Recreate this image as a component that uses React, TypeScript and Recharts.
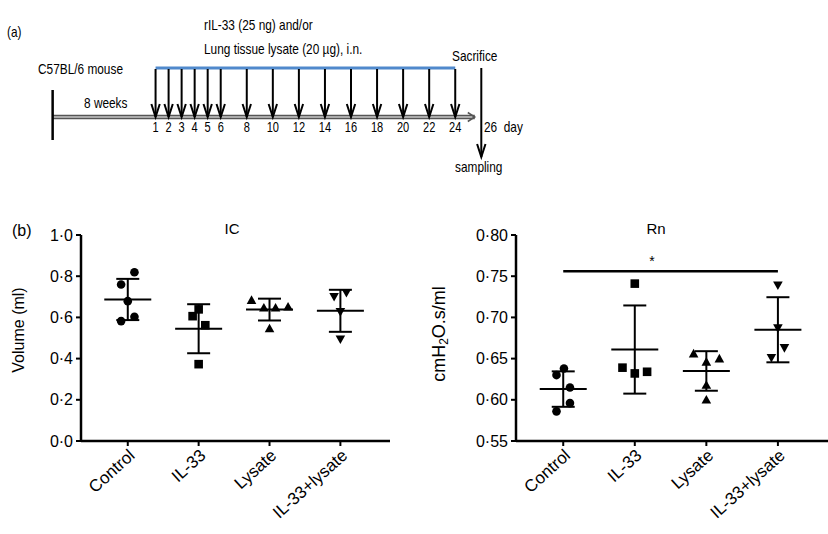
import React from "react";
import {
  ScatterChart,
  Scatter,
  XAxis,
  YAxis,
  ReferenceLine,
  ReferenceDot,
  ErrorBar,
} from "recharts";

// ---- panel (a): dosing schedule ----
const doseDays = [1, 2, 3, 4, 5, 6, 8, 10, 12, 14, 16, 18, 20, 22, 24];
const sacrificeDay = 26;
const startDay = -6.9;
const timelineEndDay = 25.5;

// ---- panel (b): lung function ----
const groups = ["Control", "IL-33", "Lysate", "IL-33+lysate"];

const icControl = [0.819, 0.76, 0.679, 0.582, 0.603];
const icIL33 = [0.639, 0.606, 0.562, 0.373];
const icLysate = [0.684, 0.647, 0.647, 0.652, 0.546];
const icCombo = [0.72, 0.7, 0.627, 0.494];
const icMean = [0.687, 0.545, 0.638, 0.632];
const icSd = [0.1, 0.119, 0.053, 0.102];
const icJitter = [
  [0.094, -0.094, 0, -0.094, 0.094],
  [0, -0.085, 0.094, 0],
  [-0.254, -0.08, 0.085, 0.262, 0],
  [0.085, -0.089, 0, 0],
];
const icTicks = [0, 0.2, 0.4, 0.6, 0.8, 1.0];

const rnControl = [0.638, 0.63, 0.615, 0.596, 0.586];
const rnIL33 = [0.741, 0.639, 0.632, 0.634];
const rnLysate = [0.656, 0.65, 0.646, 0.618, 0.6];
const rnCombo = [0.739, 0.687, 0.663, 0.651];
const rnMean = [0.613, 0.661, 0.635, 0.685];
const rnSd = [0.0215, 0.0535, 0.024, 0.0395];
const rnJitter = [
  [0.01, -0.094, 0.094, 0.094, -0.094],
  [0, -0.172, 0, 0.172],
  [-0.178, 0.182, 0, 0, 0],
  [0, 0, 0.091, -0.091],
];
const rnTicks = [0.55, 0.6, 0.65, 0.7, 0.75, 0.8];
const rnSignif = { from: 0, to: 3, level: 0.756 };

// schematic levels for panel (a), counted downward from the top
const LV = {
  blue: 68,
  arrowTop: 69,
  axis: 117,
  dayLabel: 131.7,
  startTop: 90,
  startBottom: 140,
  sacTip: 157,
};

const sans = "'Liberation Sans', Arial, Helvetica, sans-serif";
const SQUEEZE = 0.79; // panel (a) uses a condensed face

const buildPoints = (vals: number[][], jitter: number[][]) =>
  vals.flatMap((arr, i) => arr.map((v, j) => ({ x: i + jitter[i][j], y: v, group: i })));

const buildSummary = (mean: number[], sd: number[]) =>
  mean.map((m, i) => ({ x: i, y: m, sd: sd[i] }));

const DownArrow = (p: any) => {
  const { x1, y1, x2, y2 } = p;
  return (
    <g>
      <line x1={x1} y1={y1} x2={x2} y2={y2} stroke="#000" strokeWidth={2} />
      <polyline
        points={`${x2 - 4.2},${y2 - 13} ${x2},${y2} ${x2 + 4.2},${y2 - 13}`}
        fill="none"
        stroke="#000"
        strokeWidth={2}
      />
    </g>
  );
};

const TimeAxis = (p: any) => {
  const { x1, y1, x2, y2 } = p;
  return (
    <g>
      <line x1={x1} y1={y1} x2={x2} y2={y2} stroke="#555" strokeWidth={4.5} />
      <line x1={x1} y1={y1} x2={x2 - 2} y2={y2} stroke="#c8c8c8" strokeWidth={1.3} />
      <polyline
        points={`${x2 - 7},${y2 - 4.5} ${x2},${y2} ${x2 - 7},${y2 + 4.5}`}
        fill="none"
        stroke="#555"
        strokeWidth={1.5}
      />
    </g>
  );
};

const DayTick = (p: any) => (
  <text
    x={0}
    y={0}
    transform={`translate(${p.cx},${p.cy}) scale(${SQUEEZE},1)`}
    textAnchor="middle"
    fontSize={14}
    fontFamily={sans}
    fill="#000"
  >
    {p.payload.day}
  </text>
);

const Marker = (p: any) => {
  const { cx, cy, payload } = p;
  const g = payload.group;
  if (g === 0) return <circle cx={cx} cy={cy} r={4.3} fill="#000" />;
  if (g === 1) return <rect x={cx - 4.3} y={cy - 4.3} width={8.6} height={8.6} fill="#000" />;
  if (g === 2)
    return <polygon points={`${cx - 4.8},${cy + 3.8} ${cx + 4.8},${cy + 3.8} ${cx},${cy - 4.8}`} fill="#000" />;
  return <polygon points={`${cx - 4.8},${cy - 3.8} ${cx + 4.8},${cy - 3.8} ${cx},${cy + 4.8}`} fill="#000" />;
};

const MeanLine = (p: any) => (
  <line x1={p.cx - 23.5} x2={p.cx + 23.5} y1={p.cy} y2={p.cy} stroke="#000" strokeWidth={2} />
);

const txt = (extra: React.CSSProperties): React.CSSProperties => ({
  position: "absolute",
  whiteSpace: "nowrap",
  color: "#000",
  ...extra,
});

const narrowTxt = (left: number, top: number): React.CSSProperties =>
  txt({ left, top, transform: `scaleX(${SQUEEZE})`, transformOrigin: "0 0" });

function DotPlot({
  points,
  summary,
  ticks,
  digits,
  width,
  yAxisWidth,
  marginRight,
  children,
}: any) {
  return (
    <ScatterChart
      width={width}
      height={314}
      margin={{ top: 15, right: marginRight, bottom: 13, left: 0 }}
    >
      <XAxis
        type="number"
        dataKey="x"
        domain={[-0.66, 3.7]}
        ticks={[0, 1, 2, 3]}
        interval={0}
        allowDataOverflow
        tickFormatter={(i: number) => groups[i]}
        angle={-42}
        textAnchor="end"
        tickSize={5}
        tickMargin={2}
        height={80}
        axisLine={{ stroke: "#000", strokeWidth: 2.5 }}
        tickLine={{ stroke: "#000", strokeWidth: 2 }}
        tick={{ fill: "#000", fontSize: 17, fontFamily: sans }}
      />
      <YAxis
        type="number"
        dataKey="y"
        domain={[ticks[0], ticks[ticks.length - 1]]}
        ticks={ticks}
        interval={0}
        allowDataOverflow
        width={yAxisWidth}
        tickFormatter={(v: number) => v.toFixed(digits).replace(".", "\u00b7")}
        tickSize={5}
        tickMargin={3}
        axisLine={{ stroke: "#000", strokeWidth: 2.5 }}
        tickLine={{ stroke: "#000", strokeWidth: 2 }}
        tick={{ fill: "#000", fontSize: 16, fontFamily: sans }}
      />
      {children}
      <Scatter data={points} shape={Marker} isAnimationActive={false} />
      <Scatter data={summary} shape={MeanLine} isAnimationActive={false}>
        <ErrorBar dataKey="sd" direction="y" width={11.5} stroke="#000" strokeWidth={2} />
      </Scatter>
    </ScatterChart>
  );
}

export default function App() {
  const icPoints = buildPoints([icControl, icIL33, icLysate, icCombo], icJitter);
  const rnPoints = buildPoints([rnControl, rnIL33, rnLysate, rnCombo], rnJitter);
  const dayLabels = doseDays.map((d) => ({ day: d, row: LV.dayLabel }));

  return (
    <div
      style={{
        position: "absolute",
        left: 0,
        top: 0,
        width: 828,
        height: 534,
        background: "#fff",
        overflow: "hidden",
      }}
    >
      {/* panel (a) */}
      <div style={{ position: "absolute", left: 0, top: 0 }}>
        <ScatterChart width={828} height={200} margin={{ top: 0, right: 0, bottom: 0, left: 0 }}>
          <XAxis type="number" dataKey="day" domain={[-10.94, 52.61]} hide allowDataOverflow />
          <YAxis type="number" dataKey="row" domain={[0, 200]} reversed hide allowDataOverflow />
          <ReferenceLine
            segment={[
              { x: doseDays[0], y: LV.blue },
              { x: doseDays[doseDays.length - 1], y: LV.blue },
            ]}
            stroke="#5089cc"
            strokeWidth={2.8}
            ifOverflow="visible"
          />
          <ReferenceLine
            segment={[
              { x: startDay, y: LV.axis },
              { x: timelineEndDay, y: LV.axis },
            ]}
            shape={TimeAxis}
            ifOverflow="visible"
          />
          <ReferenceLine
            segment={[
              { x: startDay, y: LV.startTop },
              { x: startDay, y: LV.startBottom },
            ]}
            stroke="#000"
            strokeWidth={2.5}
            ifOverflow="visible"
          />
          {doseDays.map((d) => (
            <ReferenceLine
              key={d}
              segment={[
                { x: d, y: LV.arrowTop },
                { x: d, y: LV.axis },
              ]}
              shape={DownArrow}
              ifOverflow="visible"
            />
          ))}
          <ReferenceLine
            segment={[
              { x: sacrificeDay, y: LV.blue },
              { x: sacrificeDay, y: LV.sacTip },
            ]}
            shape={DownArrow}
            ifOverflow="visible"
          />
          <Scatter data={dayLabels} shape={DayTick} isAnimationActive={false} />
        </ScatterChart>
      </div>

      <div style={{ fontFamily: sans, fontSize: 15, lineHeight: "15px" }}>
        <span style={narrowTxt(7, 24)}>(a)</span>
        <span style={narrowTxt(204, 16.6)}>rIL-33 (25 ng) and/or</span>
        <span style={narrowTxt(204, 41.3)}>Lung tissue lysate (20 µg), i.n.</span>
        <span style={narrowTxt(38, 61.3)}>C57BL/6 mouse</span>
        <span style={narrowTxt(84, 94.6)}>8 weeks</span>
        <span style={narrowTxt(452, 48)}>Sacrifice</span>
        <span style={narrowTxt(484, 119)}>26&nbsp;&nbsp;day</span>
        <span style={narrowTxt(455, 158.8)}>sampling</span>
      </div>

      {/* panel (b) */}
      <div style={{ position: "absolute", left: 0, top: 220 }}>
        <DotPlot
          points={icPoints}
          summary={buildSummary(icMean, icSd)}
          ticks={icTicks}
          digits={1}
          width={400}
          yAxisWidth={81}
          marginRight={10}
        />
      </div>
      <div style={{ position: "absolute", left: 400, top: 220 }}>
        <DotPlot
          points={rnPoints}
          summary={buildSummary(rnMean, rnSd)}
          ticks={rnTicks}
          digits={2}
          width={428}
          yAxisWidth={116}
          marginRight={0}
        >
          <ReferenceLine
            segment={[
              { x: rnSignif.from, y: rnSignif.level },
              { x: rnSignif.to, y: rnSignif.level },
            ]}
            stroke="#000"
            strokeWidth={2.5}
          />
          <ReferenceDot
            x={1.24}
            y={0.769}
            r={0}
            stroke="none"
            label={{ value: "*", position: "center", fontSize: 14, fill: "#000", fontFamily: sans }}
          />
        </DotPlot>
      </div>

      <div style={{ fontFamily: sans, fontSize: 16, lineHeight: "16px" }}>
        <span style={txt({ left: 12, top: 222.5 })}>(b)</span>
        <span style={txt({ left: 232, top: 221, transform: "translateX(-50%)", fontSize: 15 })}>IC</span>
        <span style={txt({ left: 656, top: 221, transform: "translateX(-50%)", fontSize: 15 })}>Rn</span>
        <span
          style={txt({
            left: 19,
            top: 330,
            transform: "translate(-50%, -50%) rotate(-90deg)",
          })}
        >
          Volume (ml)
        </span>
        <span
          style={txt({
            left: 439,
            top: 334,
            transform: "translate(-50%, -50%) rotate(-90deg)",
            fontSize: 18,
          })}
        >
          cmH<sub style={{ fontSize: 12, verticalAlign: "-3px", lineHeight: 0 }}>2</sub>O.s/ml
        </span>
      </div>
    </div>
  );
}
